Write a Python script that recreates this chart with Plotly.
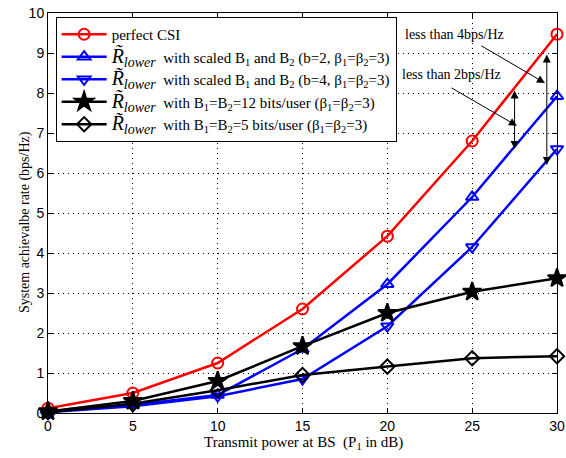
import plotly.graph_objects as go

power_db = [0, 5, 10, 15, 20, 25, 30]
perfect_csi = [0.12, 0.5, 1.25, 2.6, 4.42, 6.8, 9.47]
scaled_b2 = [0.03, 0.2, 0.45, 1.6, 3.22, 5.4, 7.92]
scaled_b4 = [0.02, 0.17, 0.42, 0.85, 2.17, 4.15, 6.6]
fixed_12bits = [0.04, 0.3, 0.8, 1.67, 2.5, 3.03, 3.37]
fixed_5bits = [0.02, 0.23, 0.57, 0.95, 1.16, 1.37, 1.42]

R = "<span style='font-size:20px'><i>R̃<sub>lower</sub></i></span>"
series = [
    ("perfect CSI", perfect_csi, "red", "circle-open"),
    (R + "  with scaled B<sub>1</sub> and B<sub>2</sub> (b=2, β<sub>1</sub>=β<sub>2</sub>=3)",
     scaled_b2, "blue", "triangle-up-open"),
    (R + "  with scaled B<sub>1</sub> and B<sub>2</sub> (b=4, β<sub>1</sub>=β<sub>2</sub>=3)",
     scaled_b4, "blue", "triangle-down-open"),
    (R + "  with B<sub>1</sub>=B<sub>2</sub>=12 bits/user (β<sub>1</sub>=β<sub>2</sub>=3)",
     fixed_12bits, "black", "star"),
    (R + "  with B<sub>1</sub>=B<sub>2</sub>=5 bits/user (β<sub>1</sub>=β<sub>2</sub>=3)",
     fixed_5bits, "black", "diamond-open"),
]

fig = go.Figure()
for name, vals, col, sym in series:
    fig.add_trace(go.Scatter(
        x=power_db, y=vals, name=name, mode="lines+markers",
        line=dict(color=col, width=2.5),
        marker=dict(symbol=sym, size=11 if sym != "star" else 14, color=col,
                    line=dict(color=col, width=2)),
        cliponaxis=False,
    ))

serif = "Liberation Serif"
sans = "Liberation Sans"

# annotation geometry (data coordinates)
text_labels = ["less than 4bps/Hz", "less than 2bps/Hz"]
text_pos = [(23.94, 9.47), (23.76, 8.47)]
pointer_tail = [(25.46, 9.2), (23.69, 8.15)]
pointer_head = [(29.29, 8.25), (27.64, 7.18)]
gap_x = [29.4, 27.5]
gap_top = [9.0, 8.1]
gap_bottom = [6.2, 6.6]

x_title = "Transmit power at BS  (P<sub>1</sub> in dB)"
y_title = "System achievalbe rate (bps/Hz)"

anns = []
for t, (tx, ty) in zip(text_labels, text_pos):
    anns.append(dict(x=tx, y=ty, xref="x", yref="y", text=t, showarrow=False,
                     font=dict(family=serif, size=14, color="black")))
for (ax_, ay_), (hx, hy) in zip(pointer_tail, pointer_head):
    anns.append(dict(x=hx, y=hy, ax=ax_, ay=ay_, xref="x", yref="y", axref="x", ayref="y",
                     text="", showarrow=True, arrowhead=2, arrowsize=1.6, arrowwidth=1,
                     arrowcolor="black"))
for gx, gt, gb in zip(gap_x, gap_top, gap_bottom):
    anns.append(dict(x=gx, y=gb, ax=gx, ay=gt, xref="x", yref="y", axref="x", ayref="y",
                     text="", showarrow=True, arrowhead=2, startarrowhead=2, arrowside="end+start",
                     arrowsize=1.6, startarrowsize=1.6, arrowwidth=1, arrowcolor="black"))
anns.append(dict(x=0.501, y=-0.075, xref="paper", yref="paper", text=x_title, showarrow=False,
                 xanchor="center", yanchor="middle",
                 font=dict(family=serif, size=15, color="black")))
anns.append(dict(x=-0.045, y=0.4775, xref="paper", yref="paper", text=y_title, showarrow=False,
                 xanchor="center", yanchor="middle", textangle=-90,
                 font=dict(family=serif, size=14, color="black")))

fig.update_layout(
    width=566, height=458,
    margin=dict(l=48, r=9, t=13, b=45),
    paper_bgcolor="white", plot_bgcolor="white",
    showlegend=True,
    legend=dict(x=0.015, y=0.99, xanchor="left", yanchor="top",
                bgcolor="white", bordercolor="black", borderwidth=1,
                font=dict(family=serif, size=15, color="black"),
                tracegroupgap=0, itemwidth=45),
    annotations=anns,
)
axis_common = dict(showline=True, linecolor="black", linewidth=1, mirror="ticks",
                   ticks="inside", ticklen=5, tickcolor="black",
                   showgrid=True, gridcolor="black", griddash="1px,4px", gridwidth=1,
                   zeroline=False, automargin=False,
                   tickfont=dict(family=sans, size=14, color="black"))
fig.update_xaxes(range=[0, 30], tickvals=power_db, **axis_common)
fig.update_yaxes(range=[0, 10], tickvals=list(range(0, 11)), **axis_common)

fig.write_html("out.html", post_script="document.body.style.margin='0';",
               config={"displayModeBar": False})
